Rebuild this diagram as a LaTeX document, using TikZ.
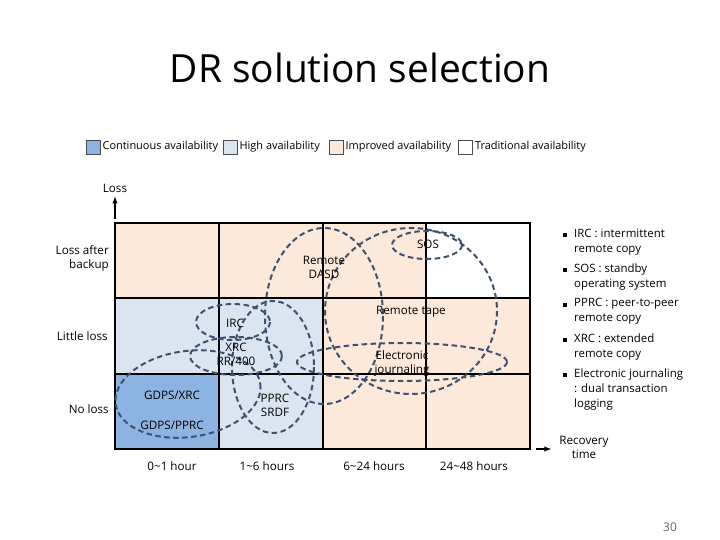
\documentclass[tikz,border=0pt]{standalone}
\usepackage{fontspec}
\setmainfont{Open Sans}
\usetikzlibrary{shapes,arrows,positioning}

\definecolor{contblue}{RGB}{141,179,226}
\definecolor{highblue}{RGB}{219,229,241}
\definecolor{improved}{RGB}{253,233,217}
\definecolor{ringgray}{RGB}{62,82,112}

\begin{document}
\begin{tikzpicture}[x=1bp,y=-1bp,>=latex]
	\def \colA{115}
	\def \colB{219}
	\def \colC{323}
	\def \colD{426}
	\def \colE{530}
	\def \rowA{223}
	\def \rowB{298}
	\def \rowC{374}
	\def \rowD{449}
	\def \hourline{466}

	\tikzstyle{small}=[font=\fontsize{11.7}{14}\selectfont,inner sep=1bp]
	\tikzstyle{legbox}=[draw=gray!60!black,line width=0.8bp,minimum size=14bp,inner sep=0pt]
	\tikzstyle{legtext}=[font=\fontsize{11}{13}\selectfont,inner sep=0pt,right=2bp]
	\tikzstyle{ring}=[draw=ringgray,line width=2bp,dash pattern=on 5.5bp off 3.5bp]
	\tikzstyle{cell}=[line width=2bp]
	\tikzstyle{axisarrow}=[->,line width=1.4bp]
	\tikzstyle{item}=[font=\fontsize{11.5}{15}\selectfont,align=left,anchor=north west,inner sep=0pt]
	\tikzstyle{bullet}=[fill=black,minimum size=3.5bp,inner sep=0pt]

	\useasboundingbox (0,0) rectangle (720,540);

	% title
	\node[font=\fontsize{39}{44}\selectfont] (title) at (360,68) {DR solution selection};

	% legend
	\node[legbox,fill=contblue] 	(lg1)	at (93,147)	{};
	\node[legtext,right=2bp of lg1]	(lt1)	{Continuous availability};
	\node[legbox,fill=highblue] 	(lg2)	at (230,147)	{};
	\node[legtext,right=2bp of lg2]	(lt2)	{High availability};
	\node[legbox,fill=improved] 	(lg3)	at (336,147)	{};
	\node[legtext,right=2bp of lg3]	(lt3)	{Improved availability};
	\node[legbox,fill=white] 	(lg4)	at (465.5,147)	{};
	\node[legtext,right=2bp of lg4]	(lt4)	{Traditional availability};

	% cells
	\fill[improved]	(\colA,\rowA) rectangle (\colD,\rowB);
	\fill[highblue]	(\colA,\rowB) rectangle (\colC,\rowC);
	\fill[improved]	(\colC,\rowB) rectangle (\colE,\rowD);
	\fill[contblue]	(\colA,\rowC) rectangle (\colB,\rowD);
	\fill[highblue]	(\colB,\rowC) rectangle (\colC,\rowD);
	\draw[cell] (\colA,\rowA) rectangle (\colE,\rowD);
	\draw[cell] (\colB,\rowA) -- (\colB,\rowD);
	\draw[cell] (\colC,\rowA) -- (\colC,\rowD);
	\draw[cell] (\colD,\rowA) -- (\colD,\rowD);
	\draw[cell] (\colA,\rowB) -- (\colE,\rowB);
	\draw[cell] (\colA,\rowC) -- (\colE,\rowC);

	% solutions
	\draw[ring] (427,245) ellipse [x radius=35,y radius=14];
	\draw[ring] (411,311) ellipse [x radius=86,y radius=83];
	\draw[ring] (402,362) ellipse [x radius=105,y radius=19];
	\draw[ring] (324,316) ellipse [x radius=59,y radius=88];
	\draw[ring] (233,322) ellipse [x radius=37,y radius=18];
	\draw[ring] (236,356) ellipse [x radius=46,y radius=19];
	\draw[ring] (273,367) ellipse [x radius=41,y radius=66];
	\draw[ring,rotate around={8:(188,394)}] (188,394) ellipse [x radius=73,y radius=43];

	\node[small]		(sos)	at (428,244)	{SOS};
	\node[small,align=center]	(dasd)	at (324,267)	{Remote\\DASD};
	\node[small]		(tape)	at (411,312)	{Remote tape};
	\node[small]		(irc)	at (235,323)	{IRC};
	\node[small,align=center]	(xrc)	at (236,354)	{XRC\\RR/400};
	\node[small,align=center]	(ej)	at (402,363)	{Electronic\\journaling};
	\node[small]		(gx)	at (172,395)	{GDPS/XRC};
	\node[small]		(gp)	at (172,425)	{GDPS/PPRC};
	\node[small,align=center]	(pprc)	at (275,405)	{PPRC\\SRDF};

	% axes
	\node[small]		(loss)	at (115,188)	{Loss};
	\node[small,align=right,anchor=east]	(lab)	at (110,258)	{Loss after\\backup};
	\node[small,anchor=east]	(little)	at (109,336)	{Little loss};
	\node[small,anchor=east]	(noloss)	at (110,409)	{No loss};
	\node[small]		(h1)	at (172,\hourline)	{0\textasciitilde1 hour};
	\node[small]		(h2)	at (267,\hourline)	{1\textasciitilde6 hours};
	\node[small]		(h3)	at (374,\hourline)	{6\textasciitilde24 hours};
	\node[small]		(h4)	at (474,\hourline)	{24\textasciitilde48 hours};
	\node[small,align=center]	(rt)	at (584,447)	{Recovery\\time};
	\coordinate (lossfoot) at (115,219);
	\coordinate (rtfoot) at (536,449);
	\draw[axisarrow,shorten >=3bp] (lossfoot) -- (loss);
	\draw[axisarrow,shorten >=7bp] (rtfoot) -- (rt.west |- rtfoot);

	% glossary
	\node[bullet]	(bul1)	at (565,235)	{};
	\node[item]	(it1)	at (574,228.5)	{IRC : intermittent\\remote copy};
	\node[bullet]	(bul2)	at (565,270)	{};
	\node[item]	(it2)	at (574,263.5)	{SOS : standby\\operating system};
	\node[bullet]	(bul3)	at (565,305)	{};
	\node[item]	(it3)	at (574,298.5)	{PPRC : peer-to-peer\\remote copy};
	\node[bullet]	(bul4)	at (565,340)	{};
	\node[item]	(it4)	at (574,333.5)	{XRC : extended\\remote copy};
	\node[bullet]	(bul5)	at (565,375)	{};
	\node[item]	(it5)	at (574,368.5)	{Electronic journaling\\: dual transaction\\logging};

	\node[font=\fontsize{12}{14}\selectfont,text=gray!80!black] (page) at (670,527) {30};
\end{tikzpicture}
\end{document}
